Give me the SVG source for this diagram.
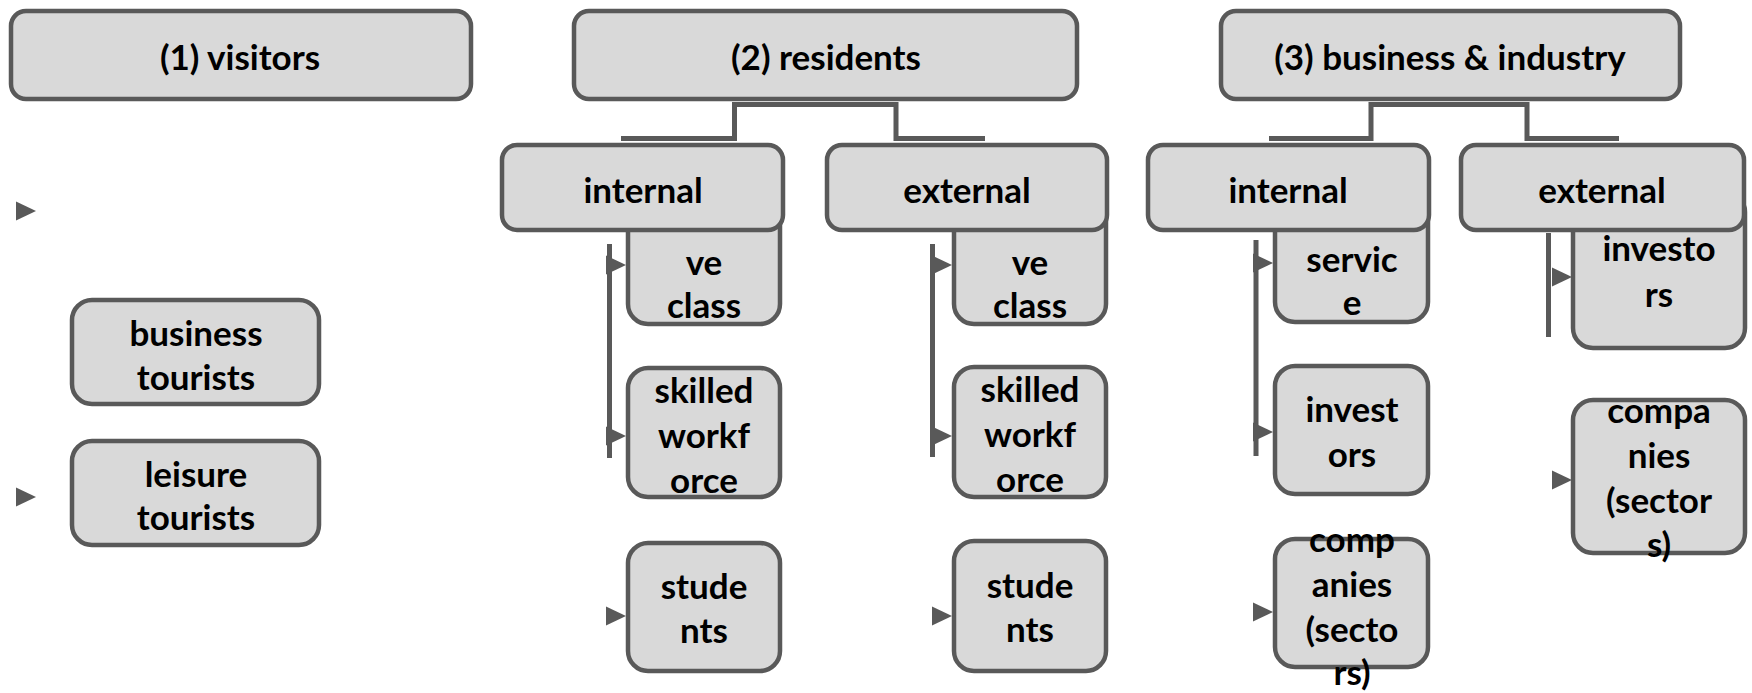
<svg xmlns="http://www.w3.org/2000/svg" xmlns:xlink="http://www.w3.org/1999/xlink" width="1752" height="693" viewBox="0 0 1752 693">
  <style>
    .box { fill: #d9d9d9; stroke: #595959; stroke-width: 4.5; }
    .wire { fill: none; stroke: #595959; stroke-width: 5; stroke-linejoin: miter; }
    .head { fill: #595959; }
    text { font-family: Lato, "Liberation Sans", sans-serif; font-weight: bold; font-size: 35px; fill: #000; text-anchor: middle; }
  </style>
  <defs>
    <path id="ah" class="head" d="M-20,-9.5 L0,0 L-20,9.5 Z"/>
  </defs>
  <rect width="1752" height="693" fill="#ffffff"/>

  <!-- connectors -->
  <g id="connectors">
    <path class="wire" d="M621,138.5 H734.5 V104.5 H896 V138.5 H985"/>
    <path class="wire" d="M1269,138.5 H1371 V104.5 H1527 V138.5 H1619"/>
    <path class="wire" d="M609.5,244 V458"/>
    <path class="wire" d="M932.5,244 V457"/>
    <path class="wire" d="M1256,240 V456"/>
    <path class="wire" d="M1548.5,233 V337"/>
    <use xlink:href="#ah" x="36" y="211"/>
    <use xlink:href="#ah" x="36" y="497"/>
    <use xlink:href="#ah" x="626" y="265"/>
    <use xlink:href="#ah" x="626" y="436"/>
    <use xlink:href="#ah" x="626" y="616"/>
    <use xlink:href="#ah" x="952" y="265"/>
    <use xlink:href="#ah" x="952" y="436"/>
    <use xlink:href="#ah" x="952" y="616"/>
    <use xlink:href="#ah" x="1273" y="263"/>
    <use xlink:href="#ah" x="1273" y="432"/>
    <use xlink:href="#ah" x="1273" y="612"/>
    <use xlink:href="#ah" x="1572" y="277"/>
    <use xlink:href="#ah" x="1572" y="480"/>
  </g>

  <!-- leaf nodes -->
  <g id="business-tourists">
    <rect class="box" x="72" y="300" width="247" height="104" rx="20"/>
    <text x="196" y="346">business</text>
    <text x="196" y="390">tourists</text>
  </g>
  <g id="leisure-tourists">
    <rect class="box" x="72" y="441" width="247" height="104" rx="20"/>
    <text x="196" y="487">leisure</text>
    <text x="196" y="530">tourists</text>
  </g>

  <g id="res-int-creative-class">
    <rect class="box" x="628" y="195" width="152" height="129" rx="20"/>
    <text x="704" y="275">ve</text>
    <text x="704" y="318">class</text>
  </g>
  <g id="res-int-skilled-workforce">
    <rect class="box" x="628" y="368" width="152" height="129" rx="20"/>
    <text x="704" y="403">skilled</text>
    <text x="704" y="448">workf</text>
    <text x="704" y="493">orce</text>
  </g>
  <g id="res-int-students">
    <rect class="box" x="628" y="543" width="152" height="128" rx="20"/>
    <text x="704" y="599">stude</text>
    <text x="704" y="643">nts</text>
  </g>

  <g id="res-ext-creative-class">
    <rect class="box" x="954" y="195" width="152" height="129" rx="20"/>
    <text x="1030" y="275">ve</text>
    <text x="1030" y="318">class</text>
  </g>
  <g id="res-ext-skilled-workforce">
    <rect class="box" x="954" y="367" width="152" height="130" rx="20"/>
    <text x="1030" y="402">skilled</text>
    <text x="1030" y="447">workf</text>
    <text x="1030" y="492">orce</text>
  </g>
  <g id="res-ext-students">
    <rect class="box" x="954" y="541" width="152" height="130" rx="20"/>
    <text x="1030" y="598">stude</text>
    <text x="1030" y="642">nts</text>
  </g>

  <g id="bi-int-service">
    <rect class="box" x="1275" y="192" width="153" height="130" rx="20"/>
    <text x="1352" y="272">servic</text>
    <text x="1352" y="315">e</text>
  </g>
  <g id="bi-int-investors">
    <rect class="box" x="1275" y="366" width="153" height="128" rx="20"/>
    <text x="1352" y="422">invest</text>
    <text x="1352" y="467">ors</text>
  </g>
  <g id="bi-int-companies">
    <rect class="box" x="1275" y="539" width="153" height="128" rx="20"/>
    <text x="1352" y="552">comp</text>
    <text x="1352" y="597">anies</text>
    <text x="1352" y="642">(secto</text>
    <text x="1352" y="685">rs)</text>
  </g>

  <g id="bi-ext-investors">
    <rect class="box" x="1573" y="192" width="172" height="156" rx="20"/>
    <text x="1659" y="261">investo</text>
    <text x="1659" y="307">rs</text>
  </g>
  <g id="bi-ext-companies">
    <rect class="box" x="1573" y="400" width="172" height="153" rx="20"/>
    <text x="1659" y="423">compa</text>
    <text x="1659" y="468">nies</text>
    <text x="1659" y="513">(sector</text>
    <text x="1659" y="557">s)</text>
  </g>

  <!-- group headers -->
  <g id="res-internal">
    <rect class="box" x="502" y="145" width="281" height="85" rx="15"/>
    <text x="643" y="203">internal</text>
  </g>
  <g id="res-external">
    <rect class="box" x="827" y="145" width="280" height="85" rx="15"/>
    <text x="967" y="203">external</text>
  </g>
  <g id="bi-internal">
    <rect class="box" x="1148" y="145" width="281" height="85" rx="15"/>
    <text x="1288" y="203">internal</text>
  </g>
  <g id="bi-external">
    <rect class="box" x="1461" y="145" width="283" height="85" rx="15"/>
    <text x="1602" y="203">external</text>
  </g>

  <!-- top-level categories -->
  <g id="visitors">
    <rect class="box" x="11" y="11" width="460" height="88" rx="15"/>
    <text x="240" y="70">(1) visitors</text>
  </g>
  <g id="residents">
    <rect class="box" x="574" y="11" width="503" height="88" rx="15"/>
    <text x="826" y="70">(2) residents</text>
  </g>
  <g id="business-industry">
    <rect class="box" x="1221" y="11" width="459" height="88" rx="15"/>
    <text x="1450" y="70">(3) business &amp; industry</text>
  </g>
</svg>
